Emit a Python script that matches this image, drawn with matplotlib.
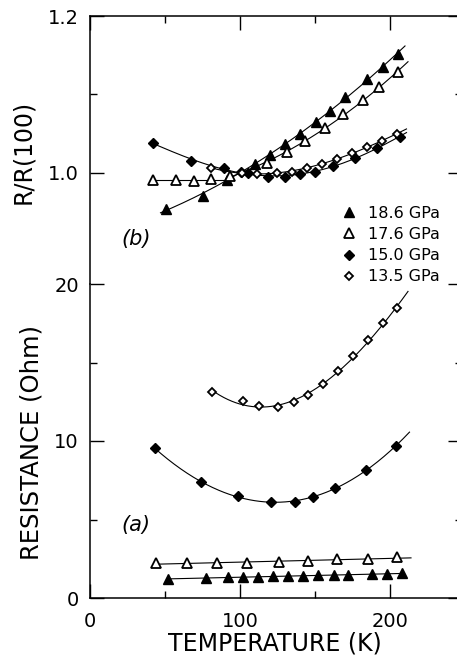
import numpy as np
import matplotlib.pyplot as plt
from matplotlib.lines import Line2D

plt.rcParams['font.family'] = ['DejaVu Sans']

# panel (b): R/R(100) vs T
T_b_186 = [50.5, 75, 91, 110, 120, 130, 140, 150.4, 160, 170, 184.4, 195.1, 205.6]
r_b_186 = [0.954, 0.970, 0.991, 1.011, 1.023, 1.037, 1.050, 1.065, 1.079, 1.096, 1.119, 1.135, 1.152]
T_b_176 = [42, 57, 69, 80.5, 93.3, 117.8, 131, 143.3, 156.7, 168.9, 181.8, 192.9, 205.6]
r_b_176 = [0.991, 0.991, 0.990, 0.992, 0.996, 1.012, 1.026, 1.040, 1.057, 1.075, 1.093, 1.109, 1.129]
T_b_150 = [42, 67, 89, 100.4, 105.6, 118.9, 130, 140, 150, 162, 176.7, 191.4, 206.7]
r_b_150 = [1.038, 1.015, 1.006, 1.001, 1.000, 0.995, 0.995, 0.998, 1.001, 1.008, 1.019, 1.032, 1.046]
T_b_135 = [80.5, 101, 111, 124.4, 134.4, 144.4, 154.4, 164.4, 174.4, 184.4, 194.4, 204.4]
r_b_135 = [1.006, 1.000, 0.999, 1.000, 1.001, 1.006, 1.011, 1.017, 1.025, 1.033, 1.041, 1.049]

# panel (a): resistance (Ohm) vs T
T_a_186 = [52.2, 77.3, 91.8, 102.2, 112.2, 122.2, 132.2, 142.2, 152.2, 162.7, 172.2, 187.8, 197.8, 207.8]
R_a_186 = [1.21, 1.29, 1.31, 1.32, 1.36, 1.37, 1.40, 1.41, 1.44, 1.45, 1.46, 1.53, 1.55, 1.57]
T_a_176 = [44, 64.4, 84.9, 104.9, 126, 145.6, 164.4, 185.1, 204.4]
R_a_176 = [2.21, 2.21, 2.25, 2.25, 2.29, 2.36, 2.46, 2.48, 2.59]
T_a_150 = [43.3, 73.8, 98.9, 120.7, 136.7, 148.4, 163, 183.8, 204]
R_a_150 = [9.53, 7.39, 6.50, 6.11, 6.11, 6.41, 7.0, 8.15, 9.68]
T_a_135 = [81.5, 101.8, 112.9, 125.6, 136, 145.6, 155.6, 165.6, 175.6, 185.6, 195.6, 204.9]
R_a_135 = [13.1, 12.57, 12.23, 12.19, 12.48, 12.93, 13.61, 14.48, 15.43, 16.43, 17.5, 18.5]

labels = ["18.6 GPa", "17.6 GPa", "15.0 GPa", "13.5 GPa"]


def fitline(ax, x, y, deg, t0, t1):
  p = np.polyfit(x, y, deg)
  tt = np.linspace(t0, t1, 200)
  ax.plot(tt, np.polyval(p, tt), color="black", lw=0.8, zorder=2)


W, H = 457, 659
fig = plt.figure(figsize=(W/100, H/100), dpi=100)
ax_b = fig.add_axes([90/W, 375/H, 372/W, 268/H])
ax_a = fig.add_axes([90/W, 61/H, 372/W, 314/H])

tri_f = dict(marker="^", ms=7.5, mfc="black", mec="black", ls="none", zorder=3)
tri_o = dict(marker="^", ms=7.5, mfc="white", mec="black", mew=1.3, ls="none", zorder=3)
dia_f = dict(marker="D", ms=5.5, mfc="black", mec="black", ls="none", zorder=3)
dia_o = dict(marker="D", ms=4.4, mfc="white", mec="black", mew=1.3, ls="none", zorder=3)

# (b)
fitline(ax_b, T_b_186, r_b_186, 2, 47, 210)
ax_b.plot([T_b_176[0], T_b_176[4]], [np.mean(r_b_176[:4])]*2, color="black", lw=0.8, zorder=2)
fitline(ax_b, T_b_176[4:], r_b_176[4:], 2, T_b_176[4], 212)
fitline(ax_b, T_b_150, r_b_150, 4, T_b_150[0], 211)
fitline(ax_b, T_b_135, r_b_135, 3, T_b_135[0], 211)
ax_b.plot(T_b_186, r_b_186, **tri_f)
ax_b.plot(T_b_176, r_b_176, **tri_o)
ax_b.plot(T_b_150, r_b_150, **dia_f)
ax_b.plot(T_b_135, r_b_135, **dia_o)

# (a)
fitline(ax_a, T_a_186, R_a_186, 1, T_a_186[0], 209)
fitline(ax_a, T_a_176, R_a_176, 1, T_a_176[0], 214)
fitline(ax_a, T_a_150, R_a_150, 3, T_a_150[0], 213)
fitline(ax_a, T_a_135, R_a_135, 3, T_a_135[0], 212)
ax_a.plot(T_a_186, R_a_186, **tri_f)
ax_a.plot(T_a_176, R_a_176, **tri_o)
ax_a.plot(T_a_150, R_a_150, **dia_f)
ax_a.plot(T_a_135, R_a_135, **dia_o)

for ax in (ax_a, ax_b):
  ax.set_xlim(0, 248)
  ax.set_xticks([0, 100, 200])
  ax.set_xticks([50, 150], minor=True)
  for s in ax.spines.values():
    s.set_linewidth(1.1)
  ax.tick_params(which="both", direction="in", right=True, width=1, labelsize=14)
  ax.tick_params(which="major", length=10)
  ax.tick_params(which="minor", length=5)
  ax.tick_params(axis="y", pad=8)
  ax.tick_params(axis="x", pad=10)

ax_b.set_ylim(0.858, 1.2)
ax_b.set_yticks([1.0, 1.2])
ax_b.set_yticklabels(["1.0", "1.2"])
ax_b.set_yticks([1.1], minor=True)
ax_b.spines["bottom"].set_visible(False)
ax_b.tick_params(axis="x", which="both", bottom=False, top=True, labelbottom=False)

ax_a.set_ylim(0, 20)
ax_a.set_yticks([0, 10, 20])
ax_a.set_yticks([5, 15], minor=True)
ax_a.spines["top"].set_visible(False)
ax_a.tick_params(axis="x", which="both", top=False)

ax_b.text(30.7, 0.9155, "(b)", style="italic", fontsize=15, ha="center", va="center")
ax_a.text(30.7, 4.65, "(a)", style="italic", fontsize=15, ha="center", va="center")

fig.text(23/W, 1-152/H, "R/R(100)", rotation=90, fontsize=17, ha="center", va="center")
fig.text(32/W, 1-442/H, "RESISTANCE (Ohm)", rotation=90, fontsize=17.5, ha="center", va="center")
fig.text(275/W, 1-644/H, "TEMPERATURE (K)", fontsize=17, ha="center", va="center")

handles = [Line2D([], [], **tri_f), Line2D([], [], **tri_o),
           Line2D([], [], **dia_f), Line2D([], [], **dia_o)]
fig.legend(handles, labels, loc="upper left", bbox_to_anchor=(341/W, 1-206/H),
           frameon=False, fontsize=11.5, handlelength=1.0, handletextpad=0.7,
           labelspacing=0.38, borderaxespad=0, borderpad=0)

fig.savefig("out.png", dpi=100)
